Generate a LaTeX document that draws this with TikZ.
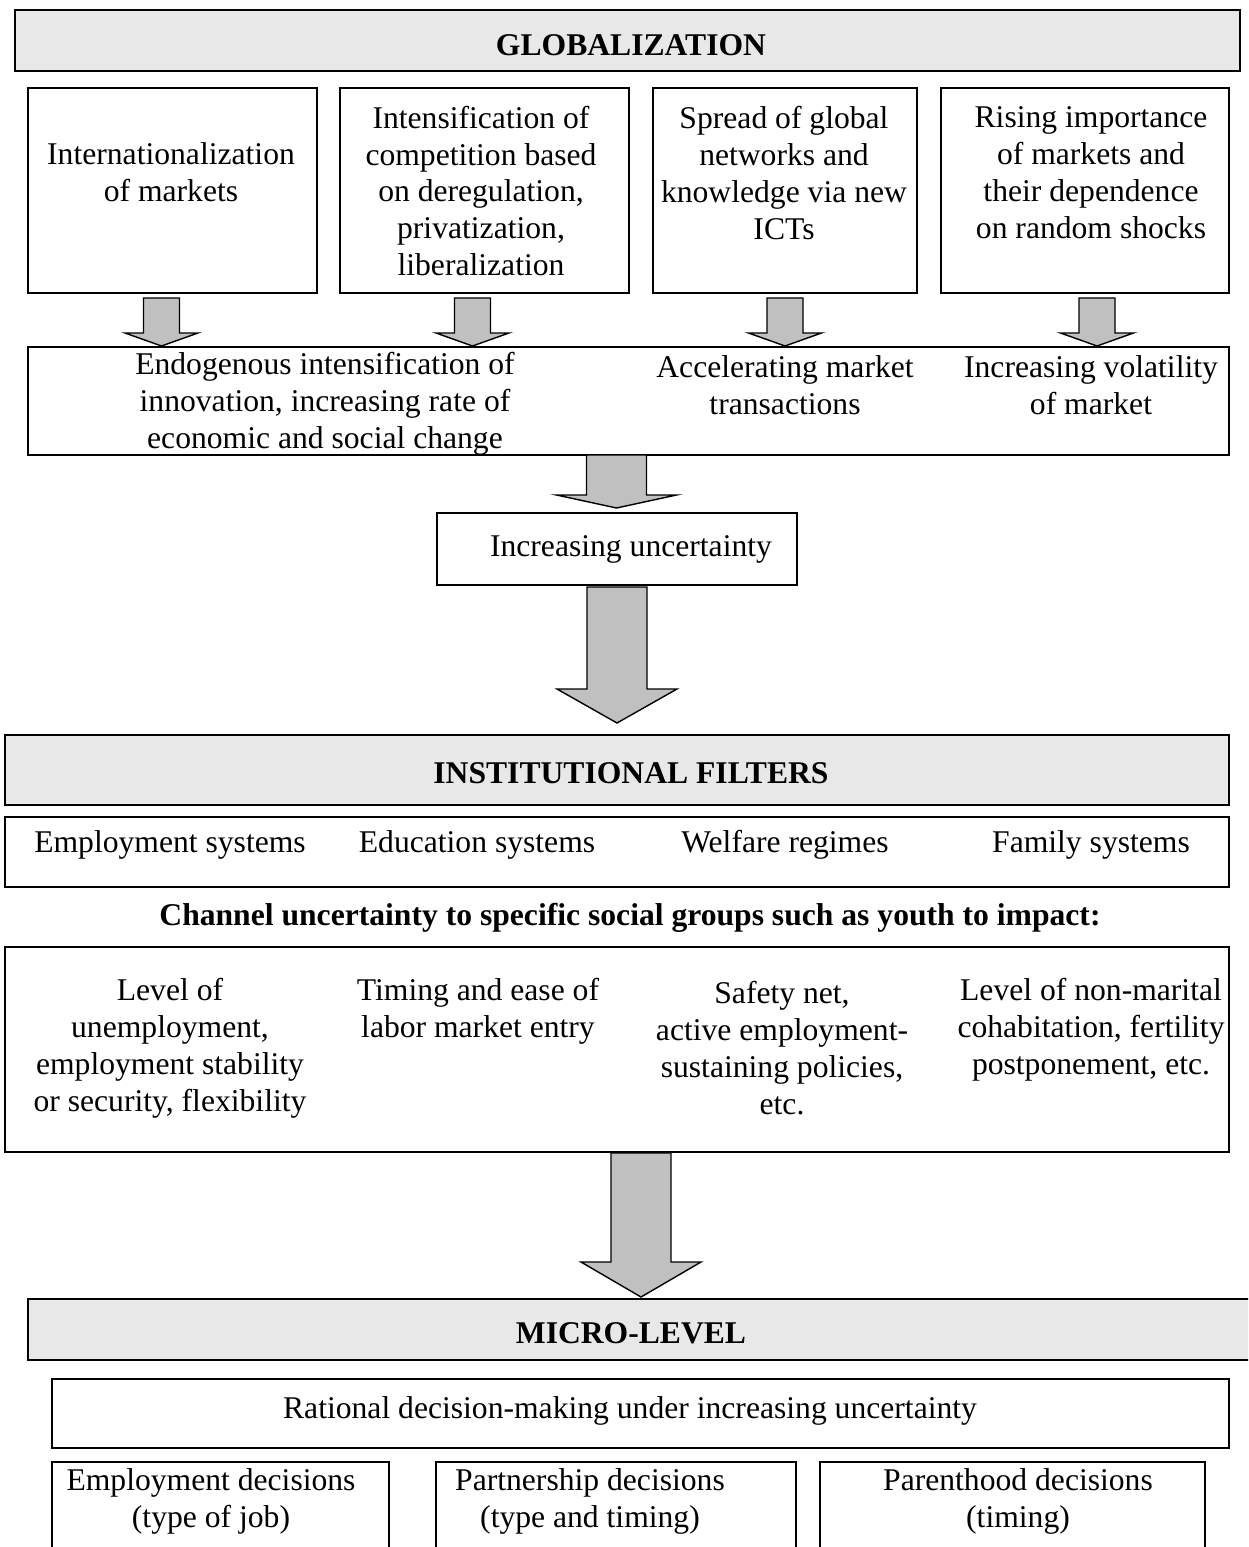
\documentclass[tikz,border=0pt]{standalone}
\usepackage{fontspec}
\setmainfont{Liberation Serif}
\usetikzlibrary{calc,fit}

\definecolor{headgray}{HTML}{E8E8E8}
\definecolor{arrowgray}{HTML}{C0C0C0}

\tikzset{
    box/.style={draw, black, line width=0.8pt, inner sep=0pt, outer sep=0pt},
    headbox/.style={box, fill=headgray, line width=1pt},
    txt/.style={align=center, inner sep=0pt, font=\fontsize{18}{21}\selectfont},
    boldtxt/.style={txt, font=\fontsize{18}{21}\selectfont\bfseries},
    blockarrow/.style={draw, black, fill=arrowgray, line width=0.8pt, line join=miter}
}

% block arrow: start, tip, half body width, half head width, head length
\newcommand{\fatarrow}[5]{%
    \filldraw[blockarrow] ($(#1)+(-#3,0)$) -- ($(#2)+(-#3,-#5)$) -- ($(#2)+(-#4,-#5)$) -- (#2)
        -- ($(#2)+(#4,-#5)$) -- ($(#2)+(#3,-#5)$) -- ($(#1)+(#3,0)$) -- cycle;}

\begin{document}
\begin{tikzpicture}[x=0.02cm,y=-0.02cm]
    \useasboundingbox (0,0) rectangle (1248,1547);
    \clip (0,0) rectangle (1248,1547);

    % globalization
    \node[headbox, fit={(15,10) (1240,71)}] (glob) {};
    \node[boldtxt] (globtxt) at (631,45) {GLOBALIZATION};

    \node[box, fit={(28,88) (317,293)}] (mkt1) {};
    \node[box, fit={(340,88) (629,293)}] (mkt2) {};
    \node[box, fit={(653,88) (917,293)}] (mkt3) {};
    \node[box, fit={(941,88) (1229,293)}] (mkt4) {};
    \node[txt] (mkt1txt) at (171,172) {Internationalization\\of markets};
    \node[txt] (mkt2txt) at (481,191) {Intensification of\\competition based\\on deregulation,\\privatization,\\liberalization};
    \node[txt] (mkt3txt) at (784,173) {Spread of global\\networks and\\knowledge via new\\ICTs};
    \node[txt] (mkt4txt) at (1091,173) {Rising importance\\of markets and\\their dependence\\on random shocks};

    \node[box, fit={(28,347) (1229,455)}] (trend) {};
    \node[txt] (trend1) at (325,404) {Endogenous intensification of\\innovation, increasing rate of\\economic and social change};
    \node[txt] (trend2) at (785,385) {Accelerating market\\transactions};
    \node[txt] (trend3) at (1091,385) {Increasing volatility\\of market};

    \node[box, fit={(437,513) (797,585)}] (unc) {};
    \node[txt] (unctxt) at (631,549) {Increasing uncertainty};

    % institutional filters
    \node[headbox, fit={(5,735) (1229,805)}] (inst) {};
    \node[boldtxt] (insttxt) at (631,773) {INSTITUTIONAL FILTERS};

    \node[box, fit={(5,817) (1229,887)}] (filt) {};
    \node[txt] (filt1) at (170,845) {Employment systems};
    \node[txt] (filt2) at (477,845) {Education systems};
    \node[txt] (filt3) at (785,845) {Welfare regimes};
    \node[txt] (filt4) at (1091,845) {Family systems};

    \node[boldtxt] (chan) at (630,918) {Channel uncertainty to specific social groups such as youth to impact:};

    \node[box, fit={(5,947) (1229,1152)}] (impact) {};
    \node[txt] (imp1) at (170,1048) {Level of\\unemployment,\\employment stability\\or security, flexibility};
    \node[txt] (imp2) at (478,1011) {Timing and ease of\\labor market entry};
    \node[txt] (imp3) at (782,1048) {Safety net,\\active employment-\\sustaining policies,\\etc.};
    \node[txt] (imp4) at (1091,1030) {Level of non-marital\\cohabitation, fertility\\postponement, etc.};

    % micro level
    \node[headbox, fit={(28,1299) (1254,1360)}] (micro) {};
    \node[boldtxt] (microtxt) at (631,1333) {MICRO-LEVEL};

    \node[box, fit={(52,1379) (1229,1448)}] (rational) {};
    \node[txt] (rattxt) at (630,1411) {Rational decision-making under increasing uncertainty};

    \node[box, fit={(52,1462) (389,1570)}] (dec1) {};
    \node[box, fit={(436,1462) (796,1570)}] (dec2) {};
    \node[box, fit={(820,1462) (1205,1570)}] (dec3) {};
    \node[txt] (dec1txt) at (211,1501) {Employment decisions\\(type of job)};
    \node[txt] (dec2txt) at (590,1501) {Partnership decisions\\(type and timing)};
    \node[txt] (dec3txt) at (1018,1501) {Parenthood decisions\\(timing)};

    % arrows
    \coordinate (a1s) at ($(mkt1.south)+(-11,5)$);
    \coordinate (a2s) at ($(mkt2.south)+(-12,5)$);
    \coordinate (a3s) at ($(mkt3.south)+(0,5)$);
    \coordinate (a4s) at ($(mkt4.south)+(12,5)$);
    \coordinate (a1t) at ($(trend.north -| a1s)+(0,-1)$);
    \coordinate (a2t) at ($(trend.north -| a2s)+(0,-1)$);
    \coordinate (a3t) at ($(trend.north -| a3s)+(0,-1)$);
    \coordinate (a4t) at ($(trend.north -| a4s)+(0,-1)$);
    \fatarrow{a1s}{a1t}{18}{36.5}{13}
    \fatarrow{a2s}{a2t}{18}{36.5}{13}
    \fatarrow{a3s}{a3t}{18}{36.5}{13}
    \fatarrow{a4s}{a4t}{18}{36.5}{13}

    \coordinate (b1s) at ($(trend.south)+(-12,0)$);
    \coordinate (b1t) at ($(unc.north -| b1s)+(0,-5)$);
    \fatarrow{b1s}{b1t}{30}{60}{13}

    \coordinate (b2s) at ($(unc.south)+(0,2)$);
    \coordinate (b2t) at ($(inst.north -| b2s)+(0,-12)$);
    \fatarrow{b2s}{b2t}{30}{60}{34}

    \coordinate (b3s) at ($(impact.south)+(24,1)$);
    \coordinate (b3t) at ($(micro.north -| b3s)+(0,-2)$);
    \fatarrow{b3s}{b3t}{30}{60}{35}
\end{tikzpicture}
\end{document}
